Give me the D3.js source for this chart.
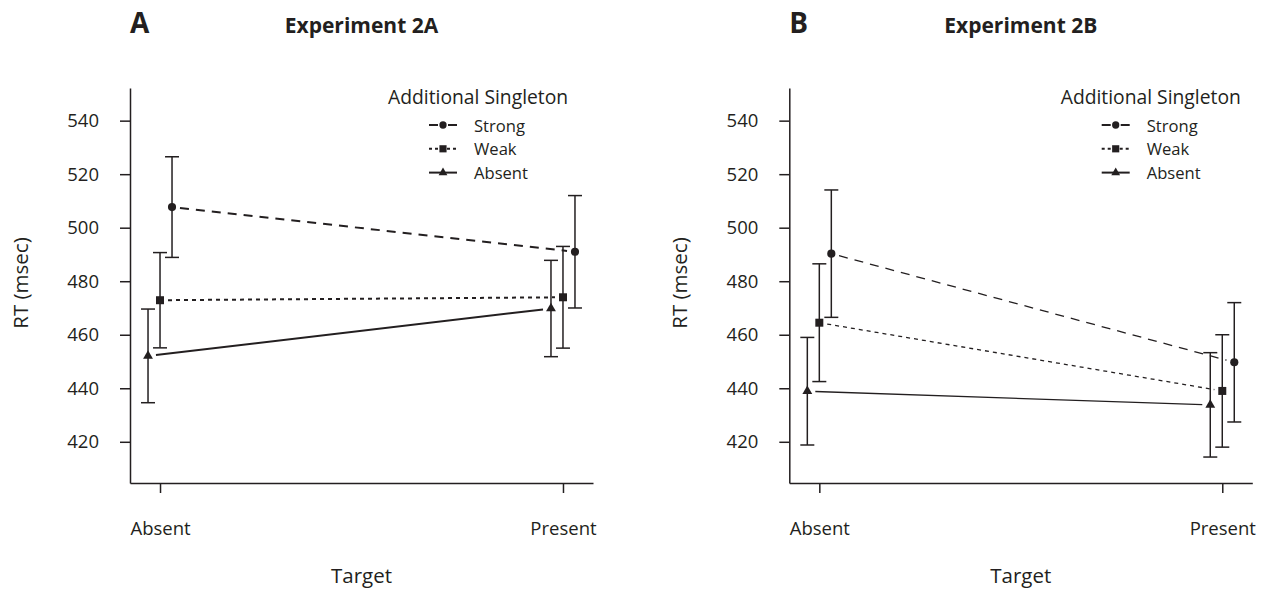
<!DOCTYPE html>
<html>
<head>
<meta charset="utf-8">
<script src="https://cdn.jsdelivr.net/npm/d3@7"></script>
<style>
  html, body { margin: 0; padding: 0; background: #fff; }
  svg { display: block; }
  text { font-family: "Open Sans", "Noto Sans", sans-serif; fill: #231f20; }
</style>
</head>
<body>
<svg id="chart" width="1270" height="590"></svg>
<script>
// ---------- data ----------
const categories = ["Absent", "Present"];
const seriesNames = ["Strong", "Weak", "Absent"];
const yTickValues = [420, 440, 460, 480, 500, 520, 540];
const panelLetters = ["A", "B"];
const panelTitles = ["Experiment 2A", "Experiment 2B"];
const legendTitle = "Additional Singleton";
const xAxisTitle = "Target";
const yAxisTitle = "RT (msec)";

// Experiment 2A : mean RT and error-bar half length per target condition
const expA_strong = [507.7, 491.0];
const expA_strongErr = [18.8, 21.0];
const expA_weak = [472.9, 474.0];
const expA_weakErr = [17.8, 19.0];
const expA_absent = [452.1, 469.8];
const expA_absentErr = [17.5, 18.0];

// Experiment 2B
const expB_strong = [490.3, 449.7];
const expB_strongErr = [23.8, 22.3];
const expB_weak = [464.5, 439.0];
const expB_weakErr = [22.0, 21.0];
const expB_absent = [438.9, 433.8];
const expB_absentErr = [20.1, 19.5];

// ---------- layout / style ----------
const ink = "#231f20";
const panels = [
  { left: 130, lineW: 2, legendX: 388,
    series: [
      { name: "Strong", mean: expA_strong, err: expA_strongErr },
      { name: "Weak", mean: expA_weak, err: expA_weakErr },
      { name: "Absent", mean: expA_absent, err: expA_absentErr } ] },
  { left: 789.3, lineW: 1.3, legendX: 1060.7,
    series: [
      { name: "Strong", mean: expB_strong, err: expB_strongErr },
      { name: "Weak", mean: expB_weak, err: expB_weakErr },
      { name: "Absent", mean: expB_absent, err: expB_absentErr } ] }
];
const plotW = 463, plotTop = 88, plotBottom = 483;
const dodge = { Strong: 12, Weak: 0, Absent: -12 };
const dashes = { Strong: "9,7", Weak: "4,4", Absent: null };
const legendDashes = { Strong: "9,10,9", Weak: "3,3", Absent: null };
const symbols = { Strong: d3.symbolCircle, Weak: d3.symbolSquare, Absent: d3.symbolTriangle };
const symSize = { Strong: 52, Weak: 64, Absent: 42 };

const svg = d3.select("#chart");

const y = d3.scaleLinear().domain([404.6, 552.2]).range([plotBottom, plotTop]);

panels.forEach((p, i) => {
  const g = svg.append("g");
  const x = d3.scalePoint().domain(categories).range([p.left, p.left + plotW]).padding(0.0745);

  // panel letter & title
  g.append("text").attr("x", p.left).attr("y", 33)
    .attr("font-size", 28).attr("font-weight", 700).text(panelLetters[i]);
  g.append("text").attr("x", p.left + plotW / 2).attr("y", 33)
    .attr("text-anchor", "middle").attr("font-size", 21).attr("font-weight", 700)
    .text(panelTitles[i]);

  // y axis
  const yAxis = g.append("g").attr("transform", `translate(${p.left},0)`)
    .call(d3.axisLeft(y).tickValues(yTickValues).tickSize(10).tickSizeOuter(0).tickPadding(21));
  // x axis
  const xAxis = g.append("g").attr("transform", `translate(0,${plotBottom})`)
    .call(d3.axisBottom(x).tickSize(10).tickSizeOuter(0).tickPadding(29));
  [yAxis, xAxis].forEach(a => {
    a.select(".domain").attr("stroke", ink).attr("stroke-width", 1.5);
    a.selectAll(".tick line").attr("stroke", ink).attr("stroke-width", 1.5);
    a.selectAll(".tick text").attr("fill", ink).attr("font-size", 18.5)
      .attr("font-family", "'Open Sans', sans-serif");
  });

  // axis titles
  g.append("text").attr("x", p.left + plotW / 2).attr("y", 583)
    .attr("text-anchor", "middle").attr("font-size", 20.5).text(xAxisTitle);
  g.append("text").attr("transform", `translate(${p.left - 102},283) rotate(-90)`)
    .attr("text-anchor", "middle").attr("font-size", 20.5).text(yAxisTitle);

  // lines with gaps at points
  const gap = 8;
  p.series.forEach(s => {
    const pts = categories.map((c, k) => [x(c) + dodge[s.name], y(s.mean[k])]);
    const dx = pts[1][0] - pts[0][0], dy = pts[1][1] - pts[0][1];
    const len = Math.hypot(dx, dy), ux = dx / len, uy = dy / len;
    g.append("line")
      .attr("x1", pts[0][0] + ux * gap).attr("y1", pts[0][1] + uy * gap)
      .attr("x2", pts[1][0] - ux * gap).attr("y2", pts[1][1] - uy * gap)
      .attr("stroke", ink).attr("stroke-width", p.lineW)
      .attr("stroke-dasharray", dashes[s.name]);
  });

  // error bars
  p.series.forEach(s => {
    categories.forEach((c, k) => {
      const cx = x(c) + dodge[s.name];
      const y1 = y(s.mean[k] + s.err[k]), y2 = y(s.mean[k] - s.err[k]);
      const eb = g.append("g").attr("stroke", ink).attr("stroke-width", 1.5);
      eb.append("line").attr("x1", cx).attr("x2", cx).attr("y1", y1).attr("y2", y2);
      eb.append("line").attr("x1", cx - 7).attr("x2", cx + 7).attr("y1", y1).attr("y2", y1);
      eb.append("line").attr("x1", cx - 7).attr("x2", cx + 7).attr("y1", y2).attr("y2", y2);
    });
  });

  // markers
  p.series.forEach(s => {
    categories.forEach((c, k) => {
      const cx = x(c) + dodge[s.name];
      g.append("path")
        .attr("d", d3.symbol().type(symbols[s.name]).size(symSize[s.name])())
        .attr("transform", `translate(${cx},${y(s.mean[k])})`)
        .attr("fill", ink);
    });
  });

  // legend
  const lx = p.legendX;
  g.append("text").attr("x", lx).attr("y", 104).attr("font-size", 19.3).text(legendTitle);
  seriesNames.forEach((name, k) => {
    const base = 131.5 + k * 23.8;
    const sy = base - 6.5;
    const sx0 = lx + 41, sx1 = lx + 69, smid = (sx0 + sx1) / 2;
    g.append("line").attr("x1", sx0).attr("x2", sx1).attr("y1", sy).attr("y2", sy)
      .attr("stroke", ink).attr("stroke-width", 2)
      .attr("stroke-dasharray", legendDashes[name]);
    g.append("path")
      .attr("d", d3.symbol().type(symbols[name]).size(symSize[name] * 0.8)())
      .attr("transform", `translate(${smid},${sy})`).attr("fill", ink);
    g.append("text").attr("x", lx + 86).attr("y", base).attr("font-size", 16.6).text(name);
  });
});
</script>
</body>
</html>
